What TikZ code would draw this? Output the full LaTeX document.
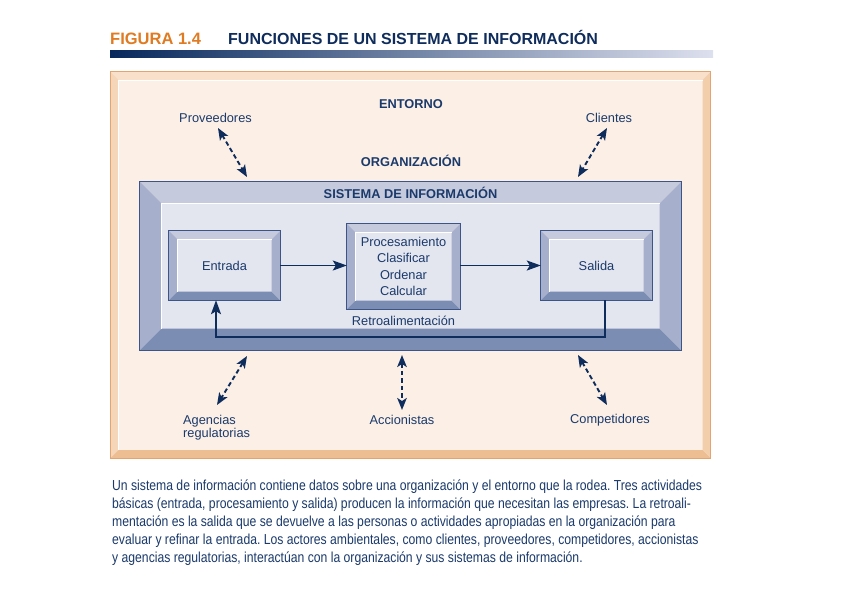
\documentclass[tikz,border=0pt]{standalone}
\usepackage{fontspec}
\setmainfont{Liberation Sans}
\newfontfamily\capfont[FakeStretch=0.84]{Liberation Sans}
\usetikzlibrary{arrows.meta,calc}
\definecolor{navy}{HTML}{1B3A6B}
\definecolor{titlenavy}{HTML}{0F2D5C}
\definecolor{arrowc}{HTML}{0E2C5C}
\definecolor{bvtop}{HTML}{C5CADC}
\definecolor{bvside}{HTML}{A6AFCB}
\definecolor{bvbot}{HTML}{7C8DB4}
\definecolor{bvface}{HTML}{E3E5EF}
\definecolor{bvline}{HTML}{3D5488}
\definecolor{orline}{HTML}{E3A46F}
\definecolor{ortop}{HTML}{F8E0CA}
\definecolor{orleft}{HTML}{F6D6B8}
\definecolor{orright}{HTML}{F2CEAB}
\definecolor{orbot}{HTML}{EDBE92}
\definecolor{orface}{HTML}{FBEFE6}
\definecolor{figorange}{HTML}{E07B22}
\definecolor{barlight}{HTML}{DDE0EE}
\definecolor{bardark}{HTML}{06285C}
\newcommand\bevelize[7]{%
 \fill[#3] (#1.north west) -- (#1.north east) -- ([xshift=-#2pt,yshift=-#2pt]#1.north east) -- ([xshift=#2pt,yshift=-#2pt]#1.north west) -- cycle;
 \fill[#4] (#1.north west) -- ([xshift=#2pt,yshift=-#2pt]#1.north west) -- ([xshift=#2pt,yshift=#2pt]#1.south west) -- (#1.south west) -- cycle;
 \fill[#5] (#1.south west) -- (#1.south east) -- ([xshift=-#2pt,yshift=#2pt]#1.south east) -- ([xshift=#2pt,yshift=#2pt]#1.south west) -- cycle;
 \fill[#6] (#1.north east) -- (#1.south east) -- ([xshift=-#2pt,yshift=#2pt]#1.south east) -- ([xshift=-#2pt,yshift=-#2pt]#1.north east) -- cycle;
 \draw[white, line width=1pt] ([xshift=#2pt+0.5pt,yshift=#2pt]#1.south west) -- ([xshift=#2pt+0.5pt,yshift=-#2pt-0.5pt]#1.north west) -- ([xshift=-#2pt,yshift=-#2pt-0.5pt]#1.north east);
 \draw[#7] (#1.north west) rectangle (#1.south east);
}
\tikzset{
  x=1pt, y=-1pt,
  lbl/.style={inner sep=0pt, text=navy, font=\fontsize{12.8}{15}\selectfont},
  blbl/.style={lbl, font=\bfseries\fontsize{12.8}{15}\selectfont},
  bluebox/.style={fill=bvface, inner sep=0pt, text=navy, font=\fontsize{12.8}{16.4}\selectfont, align=center},
  orbox/.style={fill=orface, inner sep=0pt},
  dblarrow/.style={draw=arrowc, line width=1.9pt, dash pattern=on 4.5pt off 3pt,
     {Stealth[length=12pt,width=9.5pt,inset=3pt]}-{Stealth[length=12pt,width=9.5pt,inset=3pt]}},
  flow/.style={draw=arrowc, line width=1.8pt, -{Stealth[length=14pt,width=10pt,inset=3pt]}},
}
\begin{document}
\begin{tikzpicture}
\useasboundingbox (0,0) rectangle (841,594);
\fill[white] (0,0) rectangle (841,594);
% title
\node[anchor=base west, inner sep=0pt, text=figorange, font=\bfseries\fontsize{16.5}{18}\selectfont] (fig) at (110,45) {FIGURA 1.4};
\node[anchor=base west, inner sep=0pt, text=titlenavy, font=\bfseries\fontsize{16}{18}\selectfont] (title) at (228,45) {FUNCIONES DE UN SISTEMA DE INFORMACIÓN};
\shade[left color=bardark, right color=barlight] (110,51) rectangle (713,57.5);
% environment frame
\node[orbox, minimum width=600pt, minimum height=386pt] (env) at (410.5,265) {};
\bevelize{env}{8}{ortop}{orleft}{orbot}{orright}{orline, line width=0.8pt}
\node[blbl, anchor=base] (entorno) at (411,108) {ENTORNO};
\node[blbl, anchor=base] (org) at (411,166) {ORGANIZACIÓN};
\node[lbl, anchor=base] (prov) at (215.5,122.3) {Proveedores};
\node[lbl, anchor=base] (cli) at (609,122.3) {Clientes};
% information system
\node[bluebox, minimum width=541pt, minimum height=168pt] (si) at (410.5,266) {};
\bevelize{si}{21.5}{bvtop}{bvside}{bvbot}{bvside}{bvline, line width=0.8pt}
\node[blbl, anchor=base] (silbl) at (410.5,198.3) {SISTEMA DE INFORMACIÓN};
\node[bluebox, minimum width=111pt, minimum height=69pt] (in) at (224.5,265.5) {Entrada};
\bevelize{in}{8.5}{bvtop}{bvside}{bvbot}{bvside}{bvline, line width=0.8pt}
\node[bluebox, minimum width=113pt, minimum height=85pt] (proc) at (403.5,266.5) {Procesamiento\\Clasificar\\Ordenar\\Calcular};
\bevelize{proc}{8.5}{bvtop}{bvside}{bvbot}{bvside}{bvline, line width=0.8pt}
\node[bluebox, minimum width=111pt, minimum height=69pt] (out) at (596.5,265.5) {Salida};
\bevelize{out}{8.5}{bvtop}{bvside}{bvbot}{bvside}{bvline, line width=0.8pt}
\node[lbl, anchor=base] (retro) at (403.5,325) {Retroalimentación};
% flows
\draw[flow] (in.east) -- (in.east -| proc.west);
\draw[flow] (proc.east |- out.west) -- (out.west);
\draw[flow] ([xshift=8.5pt]out.south) -- ++(0,36.5) -| ([xshift=-8.5pt]in.south);
% environment actors
\node[lbl, anchor=base west, font=\fontsize{12.8}{13.5}\selectfont] (ag) at (183,424) {\parbox[t]{90pt}{\raggedright Agencias\\regulatorias}};
\node[lbl, anchor=base] (acc) at (402,424) {Accionistas};
\node[lbl, anchor=base] (comp) at (610,423.5) {Competidores};
\coordinate (p1) at (218,128); \coordinate (p2) at (247,177);
\coordinate (c1) at (607,128); \coordinate (c2) at (578,177);
\coordinate (a1) at (247,356); \coordinate (a2) at (217,405);
\coordinate (s1) at (402,355); \coordinate (s2) at (402,410);
\coordinate (k1) at (578,355); \coordinate (k2) at (607,405);
\draw[dblarrow] (p1) -- (p2);
\draw[dblarrow] (c1) -- (c2);
\draw[dblarrow] (a1) -- (a2);
\draw[dblarrow] (s1) -- (s2);
\draw[dblarrow] (k1) -- (k2);
% caption
\node[anchor=base west, inner sep=0pt, text=navy, font=\capfont\fontsize{14.5}{18}\selectfont] (cap) at (112,490) {\parbox[t]{620pt}{\raggedright\frenchspacing
Un sistema de información contiene datos sobre una organización y el entorno que la rodea. Tres actividades\\
básicas (entrada, procesamiento y salida) producen la información que necesitan las empresas. La retroali-\\
mentación es la salida que se devuelve a las personas o actividades apropiadas en la organización para\\
evaluar y refinar la entrada. Los actores ambientales, como clientes, proveedores, competidores, accionistas\\
y agencias regulatorias, interactúan con la organización y sus sistemas de información.}};
\end{tikzpicture}
\end{document}
